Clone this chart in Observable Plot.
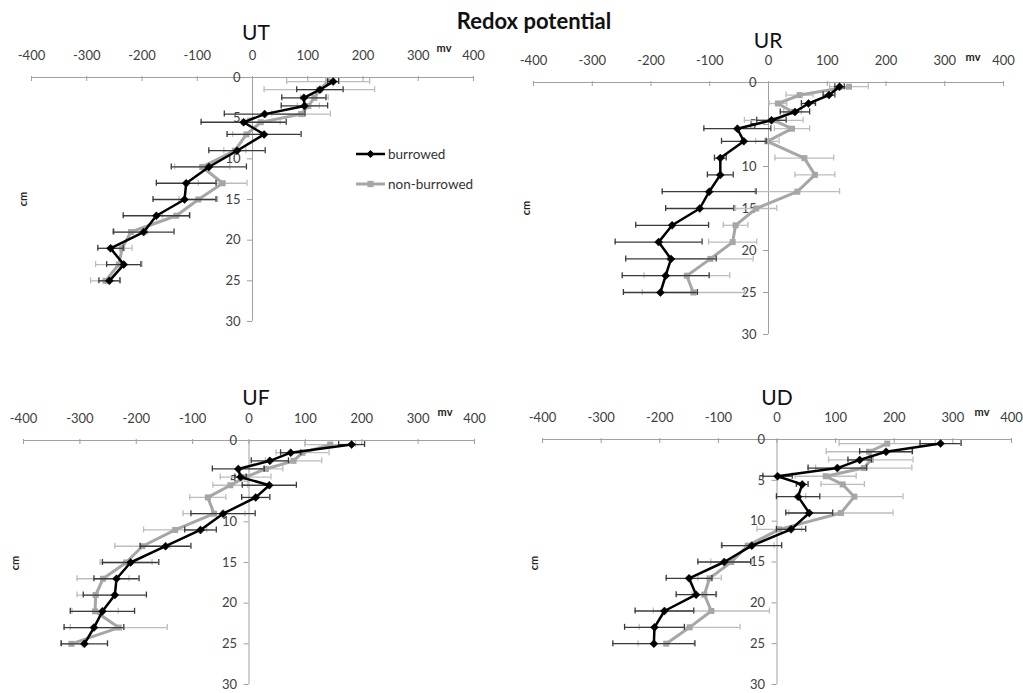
<!DOCTYPE html>
<html><head><meta charset="utf-8">
<script src="https://cdn.jsdelivr.net/npm/d3@7"></script>
<script src="https://cdn.jsdelivr.net/npm/@observablehq/plot@0.6"></script>
<style>
body{margin:0;background:#fff;font-family:Lato,"Open Sans",sans-serif;}
#root{position:relative;width:1023px;height:693px;overflow:hidden;background:#fff;}
.abs{position:absolute;white-space:nowrap;line-height:1;}
.ptitle{font-size:21px;color:#111;transform:translate(-50%,-50%);}
.mv{font-size:11px;font-weight:bold;color:#222;transform:translate(-50%,-50%);}
.cm{font-size:11px;font-weight:bold;color:#222;transform:translate(-50%,-50%) rotate(-90deg);}
</style></head><body><div id="root"></div>
<script>
// ---- data ----
const depths = [0.5, 1.5, 2.5, 3.5, 4.5, 5.5, 7, 9, 11, 13, 15, 17, 19, 21, 23, 25];
const xTicks = [-400, -300, -200, -100, 0, 100, 200, 300, 400];
const yTicks = [0, 5, 10, 15, 20, 25, 30];
const seriesNames = ["burrowed", "non-burrowed"];
const panelNames = ["UT", "UR", "UF", "UD"];
const mainTitle = "Redox potential";
const xUnit = "mv";
const yUnit = "cm";

const utBurrowed    = [146, 122, 93, 94, 22, -16, 21, -28, -79, -120, -123, -174, -197, -257, -233, -259];
const utBurrowedErr = [10, 42, 40, 42, 73, 77, 67, 51, 68, 54, 57, 60, 55, 23, 31, 19];
const utNon         = [137, 121, 112, 101, 88, 15, -11, -32, -91, -54, -98, -138, -220, -236, -242, -266];
const utNonErr      = [75, 100, 25, 20, 53, 35, 25, 20, 50, 44, 35, 25, 30, 18, 42, 27];

const urBurrowed    = [121, 103, 68, 45, 5, -53, -42, -82, -82, -101, -117, -164, -187, -166, -175, -184];
const urBurrowedErr = [8, 10, 12, 25, 25, 57, 38, 10, 22, 80, 58, 62, 74, 77, 74, 63];
const urNon         = [137, 53, 16, 41, 9, 40, -2, 61, 79, 49, -21, -56, -61, -99, -139, -128];
const urNonErr      = [33, 23, 15, 15, 50, 30, 20, 50, 34, 72, 35, 21, 41, 73, 73, 87];

const ufBurrowed    = [182, 74, 37, -19, -15, 36, 12, -46, -86, -148, -210, -235, -238, -260, -275, -292];
const ufBurrowedErr = [23, 18, 33, 46, 10, 48, 25, 57, 28, 45, 50, 40, 56, 57, 53, 41];
const ufNon         = [144, 95, 79, 30, -6, -33, -73, -62, -131, -189, -218, -259, -272, -273, -231, -315];
const ufNonErr      = [45, 47, 50, 30, 45, 31, 32, 55, 56, 49, 46, 46, 33, 41, 86, 19];

const udBurrowed    = [279, 186, 141, 103, 1, 43, 36, 55, 24, -43, -90, -150, -138, -192, -209, -210];
const udBurrowedErr = [35, 45, 20, 50, 25, 10, 37, 40, 25, 51, 45, 39, 34, 50, 51, 70];
const udNon         = [188, 157, 160, 148, 83, 112, 132, 109, 4, -50, -78, -115, -124, -112, -149, -189];
const udNonErr      = [82, 73, 72, 82, 52, 37, 83, 89, 38, 45, 35, 20, 21, 99, 86, 48];

// ---- layout (page pixel boxes of each plot frame) ----
const layout = [
  {xl: 31,  xr: 473,  yt: 77,  yb: 321, title: [256, 31], mv: [444, 47],  cm: [22, 199]},
  {xl: 533, xr: 1003, yt: 82,  yb: 334, title: [768, 39], mv: [973, 56],  cm: [525, 208]},
  {xl: 23,  xr: 474,  yt: 440, yb: 684, title: [256, 396], mv: [445, 411], cm: [14, 563]},
  {xl: 542, xr: 1011, yt: 439, yb: 684, title: [777, 396], mv: [982, 411], cm: [533, 563]}
];
const panelData = [
  [utBurrowed, utBurrowedErr, utNon, utNonErr],
  [urBurrowed, urBurrowedErr, urNon, urNonErr],
  [ufBurrowed, ufBurrowedErr, ufNon, ufNonErr],
  [udBurrowed, udBurrowedErr, udNon, udNonErr]
];

const BLACK = "#000", GRAY = "#a6a6a6", BLACK_ERR = "#3a3a3a", GRAY_ERR = "#bdbdbd", AXIS = "#a0a0a0";
const FONT = "Lato, 'Open Sans', sans-serif";
const root = document.getElementById("root");

function addText(cls, txt, x, y, extra) {
  const d = document.createElement("div");
  d.className = "abs " + cls;
  d.textContent = txt;
  d.style.left = x + "px"; d.style.top = y + "px";
  if (extra) Object.assign(d.style, extra);
  root.appendChild(d);
}

function rows(vals, errs, series) {
  return depths.map((d, i) => ({depth: d, mv: vals[i], err: errs[i], series}));
}

function errMarks(data, color) {
  return [
    Plot.ruleY(data, {y: "depth", x1: d => d.mv - d.err, x2: d => d.mv + d.err, stroke: color, strokeWidth: 1.3}),
    Plot.ruleX(data, {x: d => d.mv - d.err, y1: "depth", y2: "depth", insetTop: -3, insetBottom: -3, stroke: color, strokeWidth: 1.3}),
    Plot.ruleX(data, {x: d => d.mv + d.err, y1: "depth", y2: "depth", insetTop: -3, insetBottom: -3, stroke: color, strokeWidth: 1.3})
  ];
}

panelNames.forEach((name, p) => {
  const box = layout[p];
  const [bv, be, nv, ne] = panelData[p];
  const B = rows(bv, be, seriesNames[0]);
  const N = rows(nv, ne, seriesNames[1]);
  const mL = 40, mR = 40, mT = 50, mB = 15;
  const w = box.xr - box.xl + mL + mR;
  const h = box.yb - box.yt + mT + mB;
  const svg = Plot.plot({
    width: w, height: h,
    marginLeft: mL, marginRight: mR, marginTop: mT, marginBottom: mB,
    style: {background: "transparent", fontFamily: FONT, overflow: "visible"},
    x: {domain: [-400, 400], axis: null},
    y: {domain: [0, 30], reverse: true, axis: null},
    marks: [
      Plot.ruleY([0], {stroke: AXIS, strokeWidth: 1}),
      Plot.ruleX([0], {y1: 0, y2: 30, stroke: AXIS, strokeWidth: 1}),
      Plot.ruleX(xTicks, {x: d => d, y1: 0, y2: 0, insetTop: -1, insetBottom: -4, stroke: AXIS}),
      Plot.ruleY(yTicks, {y: d => d, x1: 0, x2: 0, insetLeft: -5, stroke: AXIS}),
      Plot.text(xTicks, {x: d => d, y: 0, text: d => String(d), dy: -22, fontSize: 13, fill: "#404040"}),
      Plot.text(yTicks, {x: 0, y: d => d, text: d => String(d), dx: -12, textAnchor: "end", fontSize: 13, fill: "#404040"}),
      ...errMarks(N, GRAY_ERR),
      Plot.line(N, {x: "mv", y: "depth", stroke: GRAY, strokeWidth: 3}),
      Plot.dot(N, {x: "mv", y: "depth", symbol: "square", r: 3.4, fill: GRAY}),
      ...errMarks(B, BLACK_ERR),
      Plot.line(B, {x: "mv", y: "depth", stroke: BLACK, strokeWidth: 2.5}),
      Plot.dot(B, {x: "mv", y: "depth", symbol: "diamond2", r: 3.6, fill: BLACK, stroke: BLACK, strokeWidth: 0.5})
    ]
  });
  svg.style.position = "absolute";
  svg.style.left = (box.xl - mL) + "px";
  svg.style.top = (box.yt - mT) + "px";
  root.appendChild(svg);
  addText("ptitle", name, box.title[0], box.title[1]);
  addText("mv", xUnit, box.mv[0], box.mv[1]);
  addText("cm", yUnit, box.cm[0], box.cm[1]);
});

addText("ptitle", mainTitle, 534, 21, {fontWeight: "bold", fontSize: "22px"});

// legend (UT panel)
const leg = d3.select(root).append("svg")
  .attr("width", 160).attr("height", 50)
  .style("position", "absolute").style("left", "350px").style("top", "140px")
  .style("overflow", "visible");
const legItems = [
  {name: seriesNames[0], color: BLACK, sym: d3.symbolDiamond2, w: 2.5},
  {name: seriesNames[1], color: GRAY, sym: d3.symbolSquare, w: 3}
];
legItems.forEach((it, i) => {
  const y = 14 + i * 30;
  leg.append("line").attr("x1", 6).attr("x2", 35).attr("y1", y).attr("y2", y)
    .attr("stroke", it.color).attr("stroke-width", it.w);
  leg.append("path").attr("d", d3.symbol(it.sym, 40)()).attr("transform", `translate(20.5,${y})`).attr("fill", it.color);
  leg.append("text").attr("x", 38).attr("y", y).attr("dy", "0.35em")
    .attr("font-size", 13.5).attr("font-family", FONT).attr("fill", "#333").text(it.name);
});
</script>
</body></html>
